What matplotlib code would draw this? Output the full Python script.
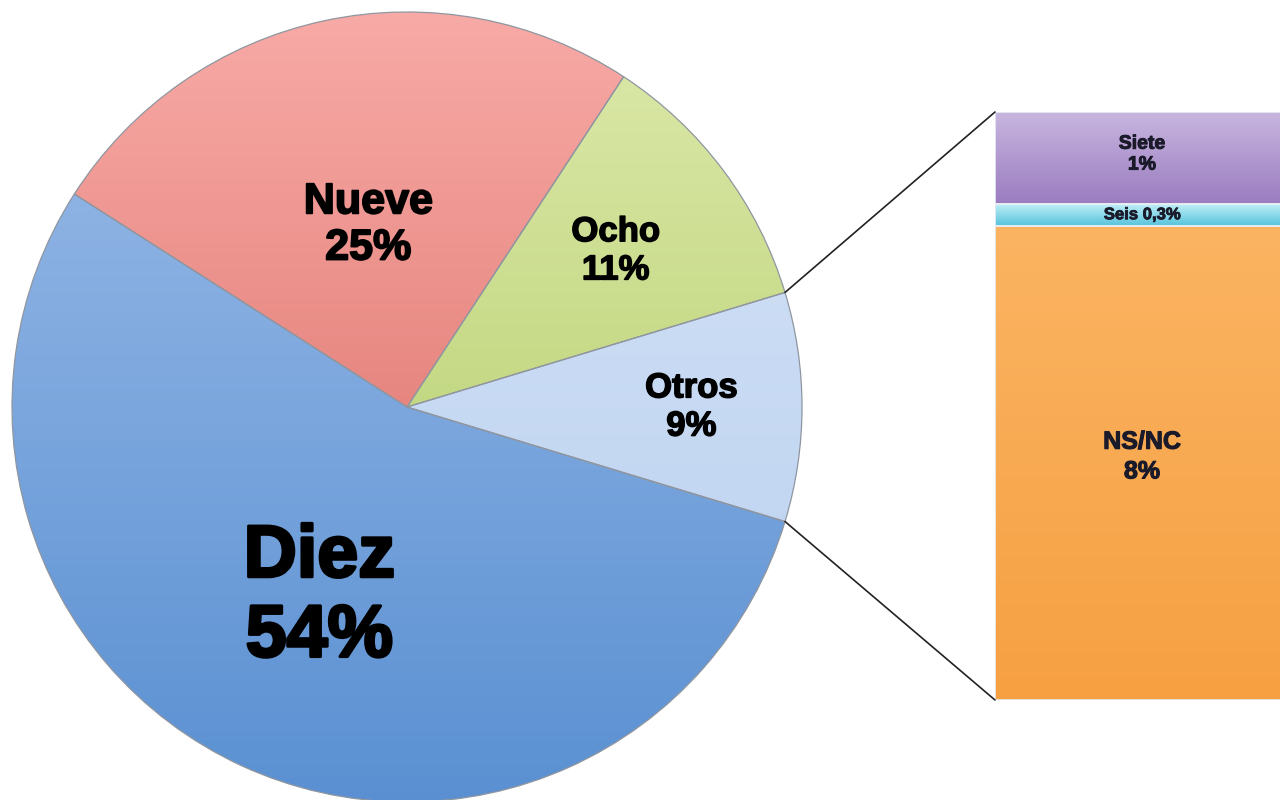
import numpy as np
import matplotlib
matplotlib.use("Agg")
import matplotlib.pyplot as plt
import matplotlib.patheffects as pe
from matplotlib.colors import LinearSegmentedColormap
from matplotlib.patches import ConnectionPatch

# pie data (counter-clockwise from the right)
pie_labels = ["Otros", "Ocho", "Nueve", "Diez"]
pie_values = [9.3, 11, 25, 54]
pie_texts = ["9%", "11%", "25%", "54%"]

# breakdown of "Otros" (bottom to top)
bar_labels = ["NS/NC", "Seis", "Siete"]
bar_values = [7.5, 0.35, 1.45]
bar_texts = ["8%", "0,3%", "1%"]

pie_cols = [("#d6e4f6", "#b8cff0"), ("#dde9ab", "#aac85c"),
            ("#f8aaa6", "#d6625a"), ("#9dbde9", "#5a90d2")]
bar_cols = [("#fbb462", "#f6a042"), ("#c4f1f8", "#55c2dc"), ("#c8b6df", "#9a7cc0")]
lab_r = [0.72, 0.66, 0.47, 0.53]
lab_size = [25, 25, 31, 53]

plt.rcParams["font.family"] = ["Liberation Sans", "DejaVu Sans"]


def heavy(lw, col="black"):
    return [pe.withStroke(linewidth=lw, foreground=col)]


fig = plt.figure(figsize=(12.8, 8), dpi=100)
ax = fig.add_axes([0, 0, 1, 1])

cx, cy, R = 407, 393, 395
start = -pie_values[0] / sum(pie_values) * 360 / 2
wedges, _ = ax.pie(pie_values, startangle=start, center=(cx, cy), radius=R,
                   counterclock=True,
                   wedgeprops=dict(edgecolor="#8f96a0", linewidth=0.9))
ax.set_xlim(0, 1280)
ax.set_ylim(0, 800)
ax.set_aspect("equal")
ax.axis("off")

grad = np.linspace(1, 0, 256).reshape(-1, 1)
for w, (c_top, c_bot) in zip(wedges, pie_cols):
    cmap = LinearSegmentedColormap.from_list("g", [c_bot, c_top])
    im = ax.imshow(grad, cmap=cmap, extent=(cx - R, cx + R, cy - R, cy + R),
                   aspect="auto", zorder=w.get_zorder() + 0.1)
    im.set_clip_path(w)
    w.set_zorder(w.get_zorder() + 0.2)
    w.set_facecolor("none")

for w, name, pct, fr, fs in zip(wedges, pie_labels, pie_texts, lab_r, lab_size):
    ang = np.deg2rad((w.theta1 + w.theta2) / 2)
    x = cx + fr * R * np.cos(ang)
    y = cy + fr * R * np.sin(ang)
    ax.text(x, y, name + "\n" + pct, ha="center", va="center", fontsize=fs,
            fontweight="bold", linespacing=1.2, zorder=10,
            path_effects=heavy(fs / 24))

# stacked bar for the "Otros" breakdown
bx = fig.add_axes([995 / 1280, 100 / 800, 300 / 1280, 588 / 800])
bottom = 0
rects = []
for v, (c_top, c_bot) in zip(bar_values, bar_cols):
    r = bx.bar(0.5, v, width=1, bottom=bottom, color="none",
               edgecolor="#e8eef4", linewidth=1.2, zorder=3)[0]
    cmap = LinearSegmentedColormap.from_list("g", [c_bot, c_top])
    im = bx.imshow(grad, cmap=cmap, extent=(0, 1, bottom, bottom + v),
                   aspect="auto", zorder=2)
    im.set_clip_path(r)
    rects.append((bottom, v))
    bottom += v
bx.set_xlim(0, 1)
bx.set_ylim(0, sum(bar_values))
bx.axis("off")

tc = "#1a1a2a"
for (b, v), name, pct in zip(rects, bar_labels, bar_texts):
    if name == "Seis":
        bx.text(0.49, b + v / 2, name + " " + pct, ha="center", va="center",
                fontsize=12, fontweight="bold", color=tc, zorder=5,
                path_effects=heavy(0.6, tc))
    elif name == "Siete":
        bx.text(0.49, b + v / 2 + 0.05, name + "\n" + pct, ha="center",
                va="center", fontsize=14, fontweight="bold", color=tc,
                zorder=5, linespacing=1.3, path_effects=heavy(0.7, tc))
    else:
        bx.text(0.49, b + v / 2 + 0.1, name + "\n" + pct, ha="center",
                va="center", fontsize=18, fontweight="bold", color=tc,
                zorder=5, linespacing=1.3, path_effects=heavy(0.8, tc))

# connector lines
w0 = wedges[0]
for corner, th in [((0, 1), w0.theta2), ((0, 0), w0.theta1)]:
    t = np.deg2rad(th)
    con = ConnectionPatch(xyA=corner, coordsA=bx.transAxes,
                          xyB=(cx + R * np.cos(t), cy + R * np.sin(t)),
                          coordsB=ax.transData, color="#222222", linewidth=1.2)
    fig.add_artist(con)

fig.savefig("out.png", dpi=100)
